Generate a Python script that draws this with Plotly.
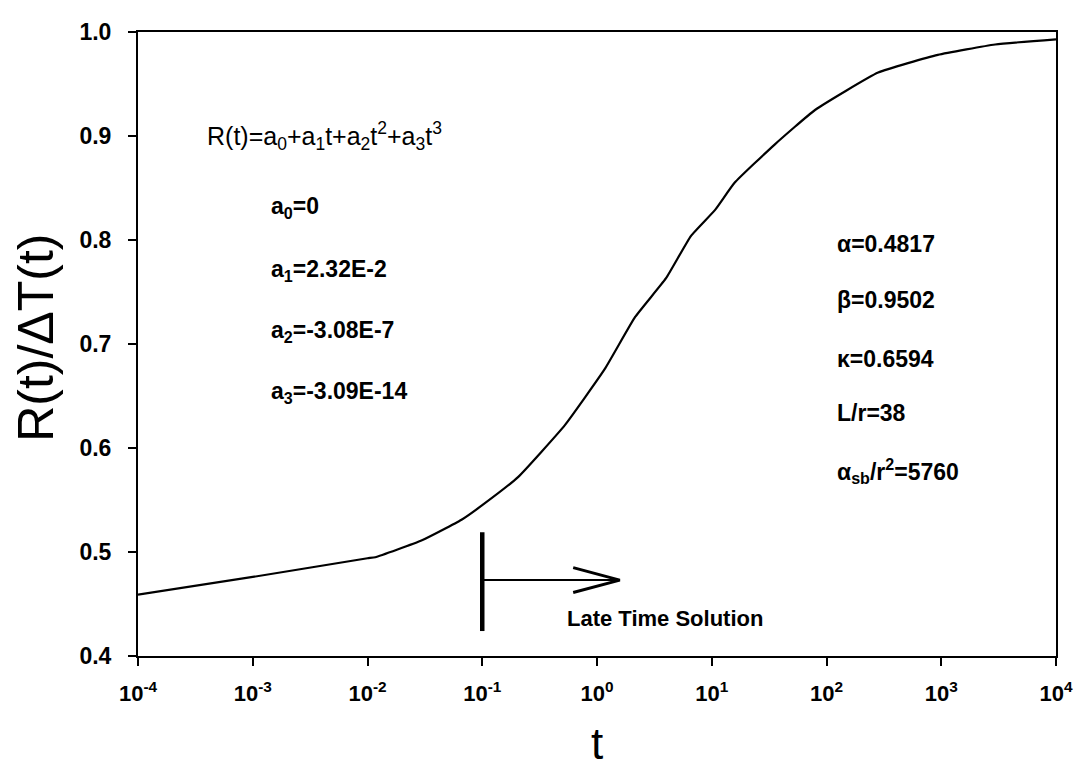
import plotly.graph_objects as go

# Curve data
t_vals = [1e-4, 1e-3, 1e-2, 0.0117, 0.0295, 0.066, 0.1, 0.205, 0.525, 1.17,
          2.15, 3.98, 6.6, 10.7, 15.8, 35.5, 79.4, 282, 933, 2950, 10000]
r_vals = [0.459, 0.476, 0.494, 0.495, 0.511, 0.531, 0.545, 0.572, 0.622, 0.676,
          0.726, 0.763, 0.804, 0.829, 0.855, 0.892, 0.925, 0.961, 0.978, 0.988, 0.993]

# "Late Time Solution" marker
bar_t = [0.1, 0.1]
bar_r = [0.424, 0.519]
shaft_t = [0.1, 1.58]
shaft_r = [0.473, 0.473]
head_t = [0.62, 1.58, 0.62]
head_r = [0.485, 0.473, 0.461]

x_tickvals = [1e-4, 1e-3, 1e-2, 1e-1, 1e0, 1e1, 1e2, 1e3, 1e4]
x_ticktext = ["10<sup>-4</sup>", "10<sup>-3</sup>", "10<sup>-2</sup>", "10<sup>-1</sup>",
              "10<sup>0</sup>", "10<sup>1</sup>", "10<sup>2</sup>", "10<sup>3</sup>", "10<sup>4</sup>"]
y_tickvals = [0.4, 0.5, 0.6, 0.7, 0.8, 0.9, 1.0]
y_ticktext = ["0.4", "0.5", "0.6", "0.7", "0.8", "0.9", "1.0"]

formula_text = "R(t)=a<sub>0</sub>+a<sub>1</sub>t+a<sub>2</sub>t<sup>2</sup>+a<sub>3</sub>t<sup>3</sup>"
left_texts = ["a<sub>0</sub>=0", "a<sub>1</sub>=2.32E-2", "a<sub>2</sub>=-3.08E-7", "a<sub>3</sub>=-3.09E-14"]
left_y = [0.831, 0.771, 0.712, 0.653]
right_texts = ["\u03b1=0.4817", "\u03b2=0.9502", "\u03ba=0.6594", "L/r=38", "\u03b1<sub>sb</sub>/r<sup>2</sup>=5760"]
right_y = [0.796, 0.742, 0.686, 0.634, 0.578]

FONT = "Liberation Sans, Arial, sans-serif"

fig = go.Figure()
fig.add_trace(go.Scatter(x=t_vals, y=r_vals, mode="lines",
                         line=dict(color="black", width=2.2, shape="spline", smoothing=0.4),
                         showlegend=False))
fig.add_trace(go.Scatter(x=bar_t, y=bar_r, mode="lines",
                         line=dict(color="black", width=4.5), showlegend=False))
fig.add_trace(go.Scatter(x=shaft_t, y=shaft_r, mode="lines",
                         line=dict(color="black", width=2), showlegend=False))
fig.add_trace(go.Scatter(x=head_t, y=head_r, mode="lines",
                         line=dict(color="black", width=3), showlegend=False))

annotations = []
annotations.append(dict(x=-3.42, y=0.9, xref="x", yref="y", xanchor="left", yanchor="middle",
                        text=formula_text, showarrow=False,
                        font=dict(family=FONT, size=25, color="black")))
for txt, yy in zip(left_texts, left_y):
    annotations.append(dict(x=-2.86, y=yy, xref="x", yref="y", xanchor="left", yanchor="middle",
                            text="<b>" + txt + "</b>", showarrow=False,
                            font=dict(family=FONT, size=23, color="black")))
for txt, yy in zip(right_texts, right_y):
    annotations.append(dict(x=2.07, y=yy, xref="x", yref="y", xanchor="left", yanchor="middle",
                            text="<b>" + txt + "</b>", showarrow=False,
                            font=dict(family=FONT, size=23, color="black")))
annotations.append(dict(x=-0.28, y=0.436, xref="x", yref="y", xanchor="left", yanchor="middle",
                        text="<b>Late Time Solution</b>", showarrow=False,
                        font=dict(family=FONT, size=22, color="black")))
annotations.append(dict(x=0.5, y=-0.14, xref="paper", yref="paper", xanchor="center", yanchor="middle",
                        text="t", showarrow=False, font=dict(family=FONT, size=44, color="black")))
annotations.append(dict(x=-0.111, y=0.51, xref="paper", yref="paper", xanchor="center", yanchor="middle",
                        text="R(t)/\u0394T(t)", textangle=-90, showarrow=False,
                        font=dict(family=FONT, size=50, color="black")))

fig.update_layout(
    width=1083, height=773,
    margin=dict(l=130, r=35, t=11, b=125),
    paper_bgcolor="white", plot_bgcolor="white",
    annotations=annotations,
    font=dict(family=FONT, color="black"),
)
fig.update_xaxes(type="log", range=[-4, 4], tickvals=x_tickvals, ticktext=x_ticktext,
                 showgrid=False, zeroline=False, showline=True, linecolor="black", linewidth=2,
                 mirror=True, ticks="outside", ticklen=8, tickwidth=2, tickcolor="black",
                 tickfont=dict(family=FONT, size=22, color="black", weight="bold"),
                 ticklabelstandoff=9)
fig.update_yaxes(range=[0.4, 1.0], tickvals=y_tickvals, ticktext=y_ticktext,
                 showgrid=False, zeroline=False, showline=True, linecolor="black", linewidth=2,
                 mirror=True, ticks="outside", ticklen=8, tickwidth=2, tickcolor="black",
                 tickfont=dict(family=FONT, size=23, color="black", weight="bold"),
                 ticklabelstandoff=12)

fig.write_html("out.html")
